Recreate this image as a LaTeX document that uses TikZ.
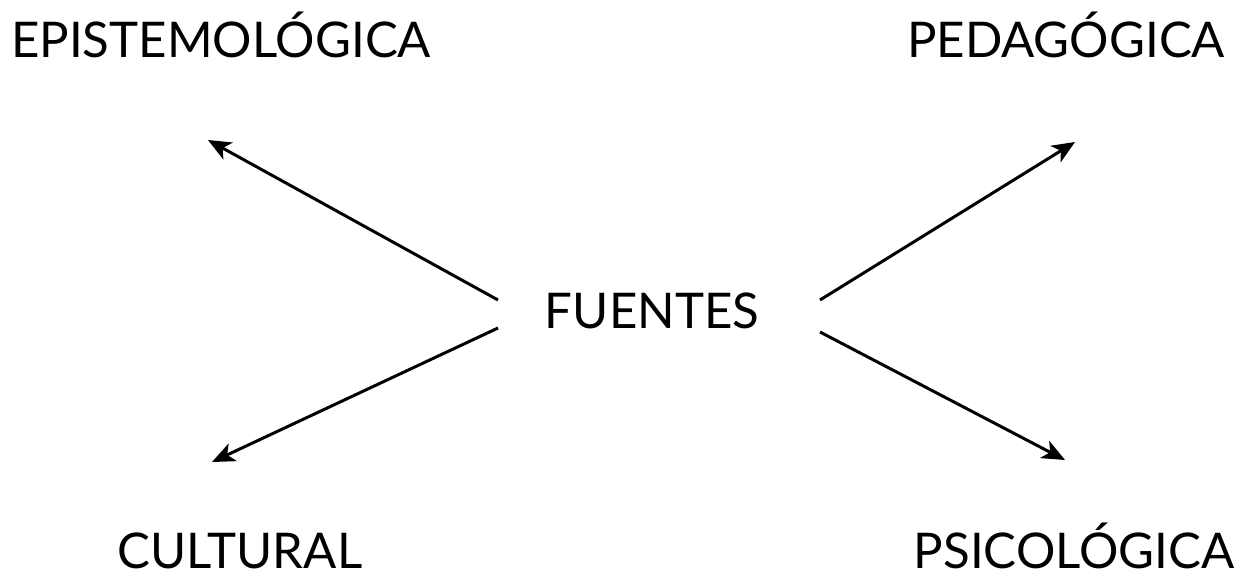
\documentclass[tikz,border=0pt]{standalone}
\usepackage{fontspec}
\setmainfont{Lato}
\usetikzlibrary{arrows.meta}

\begin{document}
\begin{tikzpicture}[x=0.02cm,y=-0.02cm,
    label/.style={font=\fontsize{28}{32}\selectfont, inner sep=0pt, anchor=base},
    link/.style={line width=1.7pt, -{Stealth[length=13pt,width=11pt,inset=3.5pt]}}]
    % Frame
    \useasboundingbox (0,0) rectangle (1256,585);

    % Labels
    \node[label] (fuentes) at (652,328) {FUENTES};
    \node[label] (epis) at (221,57) {EPISTEMOLÓGICA};
    \node[label] (peda) at (1066,57) {PEDAGÓGICA};
    \node[label] (cult) at (240,568) {CULTURAL};
    \node[label] (psic) at (1074,568) {PSICOLÓGICA};

    % Arrow ends
    \coordinate (s1) at (498,300);
    \coordinate (s2) at (498,328);
    \coordinate (s3) at (820,300);
    \coordinate (s4) at (820,332);
    \coordinate (e1) at (208,140);
    \coordinate (e2) at (212,462);
    \coordinate (e3) at (1075,142);
    \coordinate (e4) at (1065,460);

    % Arrows
    \foreach \k in {1,2,3,4}{
    \draw[link] (s\k) -- (e\k);
    }
\end{tikzpicture}
\end{document}
